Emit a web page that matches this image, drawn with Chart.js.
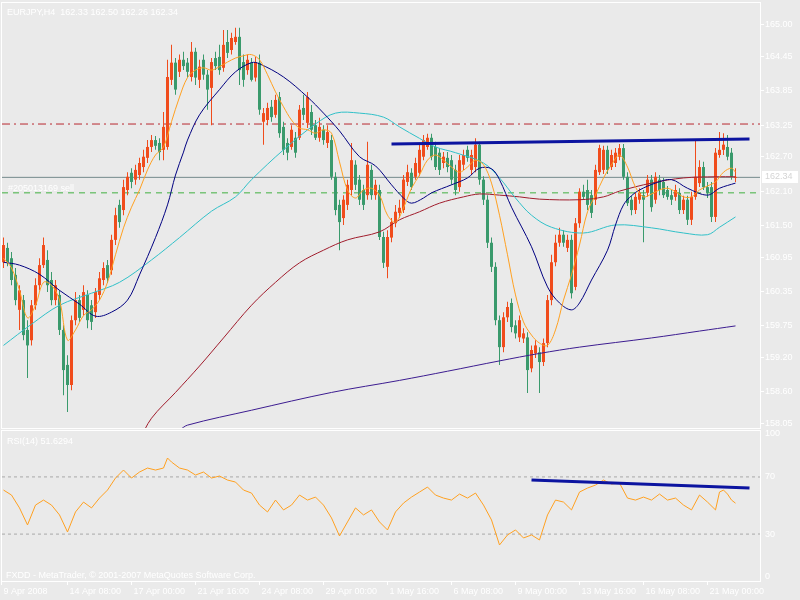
<!DOCTYPE html>
<html>
<head>
<meta charset="utf-8">
<title>EURJPY,H4</title>
<script src="https://cdn.jsdelivr.net/npm/chart.js@4.4.0/dist/chart.umd.min.js"></script>
<style>
  body { margin: 0; background: #eaeaea; }
  #wrap { position: relative; width: 800px; height: 600px; background: #eaeaea; overflow: hidden; }
  canvas { position: absolute; left: 0; }
  #price { top: 0; }
  #rsi { top: 429px; }
</style>
</head>
<body>
<div id="wrap">
  <canvas id="price" width="800" height="430"></canvas>
  <canvas id="rsi" width="800" height="171"></canvas>
</div>
<script>
// Candles, one entry per H4 bar (bar 0 = 9 Apr 2008)
const openP = [160.86,161.11,160.93,160.64,160.03,160.20,159.68,159.50,160.11,160.46,
  160.81,160.90,160.55,160.20,160.29,159.68,159.07,158.72,159.85,160.20,
  160.03,160.29,160.11,159.99,160.29,160.55,160.81,160.72,161.25,161.86,
  161.77,162.12,162.42,162.30,162.38,162.52,162.68,162.87,162.99,162.94,
  162.82,162.87,164.04,164.34,164.18,164.39,164.34,164.09,164.53,164.04,
  164.39,164.13,163.90,164.42,164.44,164.25,164.70,164.56,164.70,164.79,
  164.35,164.21,164.34,164.08,164.34,163.31,163.34,163.57,163.43,163.74,
  163.22,162.94,162.87,163.03,163.03,163.55,163.29,163.48,163.25,163.03,
  163.17,162.94,162.99,162.35,161.86,161.63,161.86,162.12,162.56,162.30,
  162.12,162.03,162.47,162.03,162.12,161.30,160.78,161.29,161.54,161.72,
  161.77,162.26,162.42,162.35,162.42,162.70,162.87,163.03,162.87,162.77,
  162.59,162.68,162.64,162.47,162.17,162.56,162.82,162.47,162.52,162.91,
  162.30,161.95,161.20,160.78,159.85,159.38,159.90,160.15,159.76,159.55,
  159.53,159.55,159.01,159.27,159.29,159.12,159.45,160.20,160.86,161.20,
  161.34,161.11,161.25,160.43,161.54,162.09,162.12,162.03,161.95,162.43,
  162.47,162.82,162.52,162.59,162.70,162.85,162.35,161.95,161.77,161.95,
  162.03,162.07,162.30,161.95,162.30,162.26,162.12,162.03,162.00,162.07,
  161.77,161.95,161.60,162.00,162.24,162.52,162.17,162.17,161.65,162.73,
  162.82,162.87,162.77,162.33];
const highP = [161.29,161.20,161.04,160.76,160.46,160.29,159.85,160.20,160.58,160.93,
  161.29,161.07,160.69,160.55,160.37,159.76,159.24,159.93,160.34,160.29,
  160.46,160.37,160.20,160.41,160.69,160.86,160.90,161.34,161.81,161.95,
  162.30,162.43,162.50,162.56,162.68,162.82,162.99,163.08,163.06,163.02,
  163.48,164.39,164.65,164.42,164.48,164.53,164.42,164.70,164.60,164.39,
  164.48,164.21,164.42,164.53,164.65,164.91,164.91,164.86,164.95,164.95,
  164.48,164.48,164.42,164.44,164.48,163.55,163.64,163.69,163.78,163.83,
  163.31,163.02,163.25,163.13,163.60,163.78,163.83,163.60,163.34,163.38,
  163.25,163.25,163.08,162.43,161.95,162.03,162.30,162.94,162.64,162.38,
  162.21,162.96,162.56,162.30,162.21,161.39,161.42,161.63,161.86,161.95,
  162.38,162.56,162.50,162.68,162.91,163.08,163.10,163.10,162.96,162.85,
  162.78,162.78,162.73,162.56,162.73,162.82,162.89,162.82,163.02,162.96,
  162.36,162.03,161.29,160.86,159.93,159.99,160.17,160.23,159.85,159.93,
  159.71,159.64,159.41,159.50,159.38,159.53,160.29,160.99,161.34,161.46,
  161.42,161.34,161.34,161.63,162.15,162.21,162.30,162.12,162.56,162.91,
  162.89,162.89,162.82,162.85,162.92,162.92,162.43,162.02,162.07,162.15,
  162.12,162.38,162.38,162.43,162.38,162.33,162.19,162.12,162.21,162.15,
  162.02,162.02,162.09,162.99,162.64,162.61,162.26,162.26,162.85,163.13,
  163.11,163.08,162.85,162.50];
const lowP = [160.76,160.79,160.46,160.11,159.68,159.50,158.84,159.41,160.03,160.37,
  160.76,160.34,160.11,160.11,159.59,158.54,158.25,158.63,159.76,159.82,
  159.93,159.71,159.68,159.89,160.20,160.46,160.50,160.64,161.16,161.46,
  161.68,162.03,162.15,162.21,162.30,162.43,162.59,162.78,162.82,162.64,
  162.64,162.82,163.95,163.78,164.09,164.21,164.08,164.01,163.95,163.90,
  164.04,163.52,163.25,164.21,164.13,164.18,164.42,164.48,164.65,163.95,
  163.92,164.13,164.01,164.01,163.43,162.91,163.25,163.31,163.38,163.03,
  162.73,162.64,162.82,162.68,162.99,163.34,163.20,163.08,162.99,162.96,
  162.91,162.85,162.30,161.68,161.07,161.51,161.77,162.03,162.12,161.86,
  161.77,161.95,161.95,161.95,161.25,160.76,160.58,161.21,161.47,161.63,
  161.72,162.19,162.12,162.30,162.36,162.64,162.82,162.64,162.47,162.38,
  162.50,162.43,162.21,162.03,162.09,162.47,162.61,162.38,162.43,162.21,
  161.86,161.11,160.69,159.76,159.07,159.29,159.82,159.64,159.53,159.47,
  159.45,158.58,158.94,159.19,158.58,159.05,159.38,160.11,160.79,161.13,
  161.13,161.04,160.23,160.37,161.46,161.95,161.77,161.63,161.86,162.38,
  162.40,162.40,162.47,162.52,162.64,162.30,161.84,161.68,161.70,161.88,
  161.21,162.00,161.74,161.88,162.03,161.98,161.95,161.86,161.93,161.70,
  161.70,161.51,161.51,161.95,162.17,162.12,161.98,161.56,161.56,162.68,
  162.73,162.64,162.30,162.26];
const closeP = [161.16,160.86,160.55,160.20,160.37,159.59,159.41,160.11,160.46,160.81,
  161.16,160.46,160.20,160.46,159.68,158.98,158.72,159.85,160.20,159.89,
  160.34,159.85,159.82,160.34,160.58,160.76,160.58,161.25,161.68,161.56,
  162.17,162.35,162.26,162.47,162.59,162.70,162.87,162.99,162.89,162.78,
  163.22,164.09,164.34,163.87,164.39,164.28,164.18,164.53,164.08,164.27,
  164.13,163.87,164.35,164.28,164.21,164.65,164.51,164.77,164.79,164.21,
  164.04,164.39,164.04,164.35,163.52,163.46,163.55,163.39,163.69,163.11,
  162.82,162.77,163.17,162.77,163.52,163.43,163.74,163.17,163.03,163.22,
  162.99,163.13,162.35,161.77,161.56,161.95,162.21,162.64,162.21,161.95,
  161.86,162.56,162.03,162.21,161.30,160.85,161.30,161.56,161.74,161.81,
  162.30,162.43,162.17,162.59,162.82,162.99,163.03,162.70,162.52,162.47,
  162.70,162.52,162.30,162.12,162.64,162.73,162.68,162.73,162.91,162.30,
  161.95,161.20,160.78,159.85,159.38,159.90,160.08,159.73,159.62,159.85,
  159.62,158.98,159.33,159.41,159.12,159.45,160.20,160.86,161.20,161.34,
  161.20,161.25,160.32,161.54,162.09,162.00,161.86,161.72,162.47,162.85,
  162.82,162.47,162.73,162.77,162.85,162.35,161.89,161.77,162.00,162.07,
  161.95,162.30,161.82,162.35,162.12,162.03,162.00,161.95,162.12,161.77,
  161.95,161.60,162.00,162.35,162.52,162.17,162.07,161.65,162.77,162.82,
  162.91,162.70,162.35,162.34];

// Moving averages (bar index, price)
const orangeMaX = [0,2,4,6,8,10,12,14,16,18,20,22,24,26,28,30,32,34,36,38,40,42,44,46,48,50,
  52,54,56,58,60,62,64,66,68,70,72,74,76,78,80,82,84,86,88,90,92,94,96,98,100,
  102,104,106,108,110,112,114,116,118,120,122,124,126,128,130,132,134,136,138,140,
  142,144,146,148,150,152,154,156,158,160,162,164,166,168,170,172,174,176,178,180,182,183];
const orangeMaY = [160.93,160.76,160.37,159.89,160.11,160.51,160.46,160.20,159.50,159.68,
  159.93,160.03,160.20,160.51,160.99,161.46,161.82,162.12,162.47,162.73,162.87,163.31,
  163.74,164.08,164.21,164.25,164.21,164.27,164.35,164.42,164.46,164.48,164.39,164.13,
  163.83,163.57,163.34,163.20,163.17,163.11,163.17,163.11,162.61,162.12,161.98,162.12,
  162.15,162.03,161.68,161.56,161.81,162.15,162.38,162.64,162.73,162.64,162.52,162.43,
  162.52,162.64,162.56,162.24,161.68,160.99,160.29,159.82,159.59,159.45,159.41,159.68,
  160.20,160.64,161.16,161.74,162.03,162.33,162.56,162.73,162.52,162.17,162.00,162.05,
  162.12,162.15,162.09,162.00,162.00,162.12,162.19,162.26,162.43,162.50,162.43];
const navyMaX = [0,4,9,14,19,23,27,31,34,38,41,43,45,46,49,54,58,62,64,70,76,80,84,89,93,97,
  100,102,105,107,112,116,119,122,124,127,132,136,139,142,144,147,151,153,155,157,159,
  163,167,171,176,179,183];
const navyMaY = [160.86,160.81,160.65,160.37,160.13,159.92,159.99,160.20,160.64,161.29,
  161.86,162.38,162.78,162.99,163.43,163.87,164.18,164.34,164.32,164.09,163.74,163.46,
  163.15,162.70,162.54,162.21,161.98,161.89,161.98,162.07,162.21,162.33,162.50,162.49,
  162.30,161.82,161.13,160.43,160.15,160.03,160.15,160.55,161.07,161.51,161.86,162.02,
  162.12,162.24,162.30,162.15,162.03,162.15,162.24];
const cyanMaX = [0,7,14,22,29,37,44,52,58,62,70,78,83,89,95,99,104,108,113,120,124,128,132,
  137,145,153,162,170,176,179,183];
const cyanMaY = [159.41,159.78,160.11,160.32,160.51,160.90,161.29,161.75,162.00,162.30,
  162.82,163.27,163.46,163.46,163.39,163.22,163.02,162.87,162.77,162.59,162.33,161.98,
  161.68,161.47,161.37,161.51,161.46,161.37,161.34,161.47,161.65];
const redMaX = [34,37,43,49,55,62,68,74,80,86,94,99,104,109,115,119,124,129,134,144,150,154,
  162,170,178,183];
const redMaY = [157.76,158.14,158.59,159.05,159.54,160.11,160.51,160.85,161.07,161.25,
  161.39,161.60,161.74,161.89,162.00,162.05,162.03,162.00,161.96,161.95,162.00,162.10,
  162.24,162.33,162.35,162.35];
const purpleMaX = [44,46,62,82,99,111,124,134,144,162,174,183];
const purpleMaY = [157.93,158.02,158.28,158.59,158.80,158.96,159.14,159.27,159.38,159.54,
  159.66,159.75];

// RSI(14)
const rsiX = [0,2,4,6,8,10,12,14,16,18,20,22,24,26,28,30,32,34,36,38,40,41,42,44,46,48,50,
  52,54,56,58,60,62,64,66,68,70,72,74,76,78,80,82,84,86,88,90,92,94,96,98,100,102,104,
  106,108,110,112,114,116,118,120,122,124,126,128,130,132,134,136,138,140,142,144,146,
  148,150,152,154,156,158,160,162,164,166,168,170,172,174,176,178,179,180,181,182,183];
const rsiY = [60.8,57.3,48.3,36.4,50.3,53.8,50.3,43.4,31.5,45.5,52.4,48.3,55.2,60.8,69.2,
  74.8,69.2,73.4,76.2,74.8,76.2,83.2,80.4,76.2,74.8,71.3,73.4,69.2,70.6,67.8,66.4,60.8,
  58.7,50.3,45.5,53.8,46.9,50.3,57.3,53.8,55.9,50.3,41.3,28.7,38.5,48.3,43.4,46.9,38.5,
  32.9,45.5,51.7,55.9,59.4,62.9,57.3,55.2,53.8,58.0,55.2,58.7,50.3,39.9,22.4,29.4,32.9,
  27.3,29.4,25.9,43.4,53.8,52.4,46.9,59.4,62.2,64.3,67.8,65.0,65.7,55.2,53.8,55.9,53.8,
  58.0,53.8,55.2,50.3,46.9,57.3,52.4,46.9,59.4,60.8,58.0,53.8,51.63];

// Hand-drawn trend lines
const priceTrendX = [97, 186.5];
const priceTrendY = [162.92, 163.01];
const rsiTrendX = [132, 186.5];
const rsiTrendY = [67.8, 62.2];

// Horizontal levels
const resistLevel = 163.27;
const bidPrice = 162.34;
const orderPrice = 162.07;
const rsiLevels = [70, 30];

// Axis ticks
const priceTicks = [165.00,164.45,163.85,163.25,162.70,162.10,161.50,160.95,160.35,159.75,159.20,158.60,158.05];
const rsiTicks = [100, 70, 30, 0];
const dateTickBars = [-0.5,16,32,48,64,80,96,112,128,144,160,176];
const dateTickText = ['9 Apr 2008','14 Apr 08:00','17 Apr 00:00','21 Apr 16:00','24 Apr 08:00','29 Apr 00:00',
  '1 May 16:00','6 May 08:00','9 May 00:00','13 May 16:00','16 May 08:00','21 May 00:00'];

const headerText = 'EURJPY,H4  162.33 162.50 162.26 162.34';
const orderText = '#205013169 sell';
const rsiText = 'RSI(14) 51.6294';
const copyText = 'FXDD - MetaTrader, \u00a9 2001-2007 MetaQuotes Software Corp.';

const xMin = -0.375, xMax = 189.125;
const FONT = '"Liberation Sans", Arial, sans-serif';
const BULL = '#f04c1c', BEAR = '#3a9a6c';

function pts(xs, ys) { return xs.map((x, k) => ({ x: x, y: ys[k] })); }
function flat(v) { return [{ x: xMin, y: v }, { x: xMax, y: v }]; }
function candleColor(ctx) {
  const i = ctx.dataIndex;
  return closeP[i] >= openP[i] ? BULL : BEAR;
}
function maLine(xs, ys, color) {
  return { type: 'line', data: pts(xs, ys), borderColor: color, borderWidth: 1,
    pointRadius: 0, tension: 0.35, fill: false };
}

const framePlugin = {
  id: 'frame',
  afterDatasetsDraw(chart) {
    const { ctx, chartArea: a } = chart;
    ctx.save();
    ctx.strokeStyle = '#ffffff';
    ctx.lineWidth = 1;
    ctx.strokeRect(a.left - 0.5, a.top - 0.5, a.right - a.left + 1, a.bottom - a.top + 1);
    ctx.restore();
  }
};

const priceText = {
  id: 'priceText',
  afterDraw(chart) {
    const ctx = chart.ctx;
    ctx.save();
    ctx.font = '9px ' + FONT;
    ctx.fillStyle = '#ffffff';
    ctx.textBaseline = 'alphabetic';
    ctx.fillText(headerText, 7, 15);
    ctx.fillText(orderText, 8, 191);
    // current price marker on the axis
    const y = Math.round(chart.scales.y.getPixelForValue(bidPrice));
    ctx.fillRect(762, y - 6, 36, 12);
    ctx.fillStyle = '#d4d4d4';
    ctx.textBaseline = 'middle';
    ctx.fillText(bidPrice.toFixed(2), 765, y);
    ctx.restore();
  }
};

const rsiText2 = {
  id: 'rsiText',
  afterDraw(chart) {
    const ctx = chart.ctx;
    ctx.save();
    ctx.font = '9px ' + FONT;
    ctx.fillStyle = '#ffffff';
    ctx.fillText(rsiText, 7, 15);
    ctx.fillText(copyText, 6, 149);
    ctx.restore();
  }
};

const tickFont = { family: FONT, size: 9 };

new Chart(document.getElementById('price'), {
  type: 'bar',
  data: {
    datasets: [
      { type: 'line', data: pts(priceTrendX, priceTrendY), borderColor: '#0c14a0', borderWidth: 3, pointRadius: 0 },
      maLine(orangeMaX, orangeMaY, '#ffa020'),
      maLine(navyMaX, navyMaY, '#000080'),
      maLine(cyanMaX, cyanMaY, '#30c0c8'),
      maLine(redMaX, redMaY, '#a01c2c'),
      maLine(purpleMaX, purpleMaY, '#3c1c90'),
      { type: 'bar', data: openP.map((o, i) => ({ x: i, y: [o, closeP[i]] })), backgroundColor: candleColor,
        barThickness: 3, minBarLength: 1, grouped: false, inflateAmount: 0, borderWidth: 0 },
      { type: 'bar', data: lowP.map((l, i) => ({ x: i, y: [l, highP[i]] })), backgroundColor: candleColor,
        barThickness: 1, grouped: false, inflateAmount: 0, borderWidth: 0 },
      { type: 'line', data: flat(bidPrice), borderColor: '#74898c', borderWidth: 1, pointRadius: 0 },
      { type: 'line', data: flat(orderPrice), borderColor: '#40b040', borderWidth: 1, borderDash: [6, 5], pointRadius: 0 },
      { type: 'line', data: flat(resistLevel), borderColor: '#b82830', borderWidth: 1, borderDash: [8, 4, 2, 4], pointRadius: 0 }
    ]
  },
  options: {
    responsive: false,
    animation: false,
    layout: { padding: { left: 2, top: 3, right: 0, bottom: 2 } },
    plugins: { legend: { display: false }, tooltip: { enabled: false } },
    scales: {
      x: { type: 'linear', min: xMin, max: xMax, display: false, offset: false },
      y: {
        position: 'right', min: 157.97, max: 165.38,
        afterFit: s => { s.width = 40; s.paddingTop = 0; s.paddingBottom = 0; },
        afterBuildTicks: s => { s.ticks = priceTicks.map(v => ({ value: v })); },
        grid: { drawOnChartArea: false, drawTicks: true, tickLength: 4, color: '#ffffff' },
        border: { display: false },
        ticks: { autoSkip: false, color: '#ffffff', font: tickFont, padding: 1, callback: v => v.toFixed(2) }
      }
    }
  },
  plugins: [framePlugin, priceText]
});

new Chart(document.getElementById('rsi'), {
  type: 'line',
  data: {
    datasets: [
      { data: pts(rsiTrendX, rsiTrendY), borderColor: '#0c14a0', borderWidth: 3, pointRadius: 0 },
      { data: pts(rsiX, rsiY), borderColor: '#ffa020', borderWidth: 1, pointRadius: 0, tension: 0 },
      { data: flat(rsiLevels[0]), borderColor: '#a8a8a8', borderWidth: 1, borderDash: [3, 3], pointRadius: 0 },
      { data: flat(rsiLevels[1]), borderColor: '#a8a8a8', borderWidth: 1, borderDash: [3, 3], pointRadius: 0 }
    ]
  },
  options: {
    responsive: false,
    animation: false,
    layout: { padding: { left: 2, top: 2, right: 0, bottom: 0 } },
    plugins: { legend: { display: false }, tooltip: { enabled: false } },
    scales: {
      x: {
        type: 'linear', min: xMin, max: xMax, offset: false,
        afterFit: s => { s.height = 19; s.paddingLeft = 0; s.paddingRight = 0; },
        afterBuildTicks: s => { s.ticks = dateTickBars.map(v => ({ value: v })); },
        grid: { drawOnChartArea: false, drawTicks: true, tickLength: 4, color: '#ffffff' },
        border: { display: false },
        ticks: { autoSkip: false, maxRotation: 0, align: 'start', labelOffset: 2, padding: 1,
          color: '#ffffff', font: tickFont, callback: (v, i) => dateTickText[i] }
      },
      y: {
        position: 'right', min: -2.8, max: 102.1,
        afterFit: s => { s.width = 40; s.paddingTop = 0; s.paddingBottom = 0; },
        afterBuildTicks: s => { s.ticks = rsiTicks.map(v => ({ value: v })); },
        grid: { drawOnChartArea: false, drawTicks: false },
        border: { display: false },
        ticks: { autoSkip: false, color: '#ffffff', font: tickFont, padding: 5 }
      }
    }
  },
  plugins: [framePlugin, rsiText2]
});
</script>
</body>
</html>
